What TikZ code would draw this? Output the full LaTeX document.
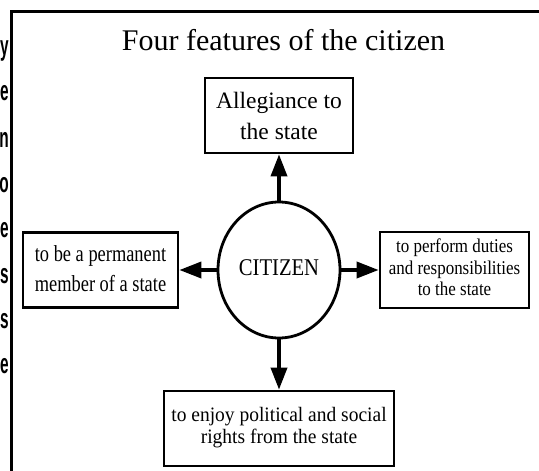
\documentclass[tikz,border=0pt]{standalone}
\usepackage{fontspec}
\usepackage{graphicx}
\setmainfont{Liberation Serif}
\newfontfamily\edgefont{Liberation Sans}
\usetikzlibrary{arrows.meta,shapes.geometric}
% narrow lines of text, as printed
\newcommand{\squeezed}[2]{\scalebox{#1}[1]{\begin{tabular}{@{}c@{}}#2\end{tabular}}}

\begin{document}
\begin{tikzpicture}[x=1pt,y=-1pt,
		feature/.style={draw,line width=2.7pt,align=center,inner sep=0pt,minimum height=75pt},
		link/.style={line width=3.6pt,-{Triangle[length=22pt,width=16pt]}}]
		\useasboundingbox (0,0) rectangle (539,471);
		
		% page frame and line ends of the next column
		\draw[line width=2.8pt] (11.5,471) -- (11.5,11.5) -- (539,11.5);
		\foreach \ch/\yy in {y/55,e/100,n/147,o/192,e/237,s/283,s/328,e/373}
		\node[anchor=base east,inner sep=0pt,font=\edgefont\bfseries\fontsize{28}{28}\selectfont] at (9,\yy) {\scalebox{.55}[1]{\ch}};
		
		\node[anchor=base,font=\fontsize{30}{36}\selectfont] (title) at (283.5,50) {Four features of the citizen};
		
		\node[draw,ellipse,line width=2.8pt,minimum width=122pt,minimum height=136pt,inner sep=0pt,
		font=\fontsize{24}{28}\selectfont] (citizen) at (279,270) {\squeezed{.86}{CITIZEN}};
		
		\node[feature,minimum width=148pt,font=\fontsize{23.5}{31}\selectfont] (allegiance) at (279,115.5) {Allegiance to\\the state};
		\node[feature,minimum width=155pt,font=\fontsize{23}{30}\selectfont] (member) at (100.5,270) {\squeezed{.8}{to be a permanent\\member of a state}};
		\node[feature,minimum width=149pt,minimum height=76pt,font=\fontsize{19.5}{21.5}\selectfont] (duties) at (454.5,270) {\squeezed{.87}{to perform duties\\and responsibilities\\to the state}};
		\node[feature,minimum width=230pt,font=\fontsize{20.5}{22}\selectfont] (rights) at (279,428.5) {\squeezed{.95}{to enjoy political and social\\rights from the state}};
		
		\draw[link] (citizen) -- (allegiance);
		\draw[link] (citizen) -- (member);
		\draw[link] (citizen) -- (duties);
		\draw[link] (citizen) -- (rights);
		\end{tikzpicture}
\end{document}
